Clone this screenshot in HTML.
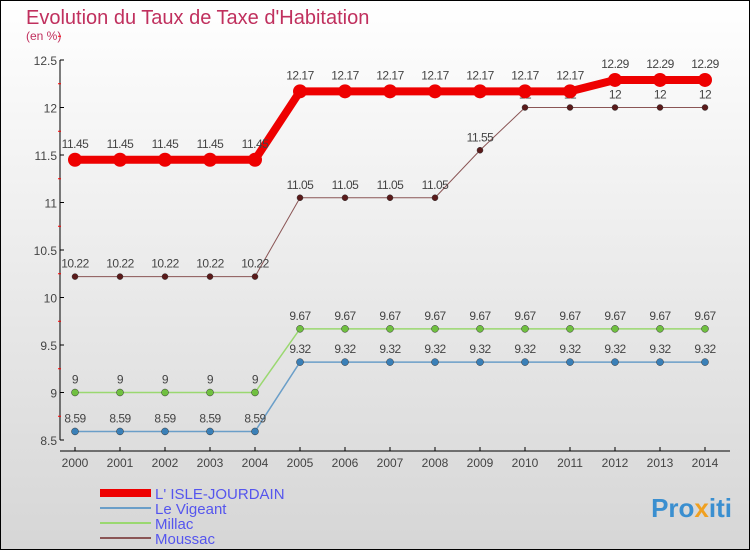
<!DOCTYPE html>
<html><head><meta charset="utf-8"><style>
body{margin:0}
#wrap{width:750px;height:550px;position:relative;box-sizing:border-box;border:1px solid #000;background:linear-gradient(#ffffff,#d6d6d6);font-family:"Liberation Sans",sans-serif;overflow:hidden}
</style></head><body>
<div id="wrap">
<svg id="svg" width="750" height="550" style="position:absolute;left:-1px;top:-1px">
<text x="26" y="24" font-size="20" fill="#c0305e">Evolution du Taux de Taxe d'Habitation</text>
<text x="26" y="40" font-size="12" fill="#c0305e">(en %)</text>
<g id="plot"></g>
<text x="732" y="517" font-size="26" font-weight="bold" fill="#3a8fd0" text-anchor="end">Pro<tspan fill="#f0a020">x</tspan>iti</text>
</svg>
</div>
<script>
const years=[2000,2001,2002,2003,2004,2005,2006,2007,2008,2009,2010,2011,2012,2013,2014];
const isle=[11.45,11.45,11.45,11.45,11.45,12.17,12.17,12.17,12.17,12.17,12.17,12.17,12.29,12.29,12.29];
const vigeant=[8.59,8.59,8.59,8.59,8.59,9.32,9.32,9.32,9.32,9.32,9.32,9.32,9.32,9.32,9.32];
const millac=[9,9,9,9,9,9.67,9.67,9.67,9.67,9.67,9.67,9.67,9.67,9.67,9.67];
const moussac=[10.22,10.22,10.22,10.22,10.22,11.05,11.05,11.05,11.05,11.55,12,12,12,12,12];
const yTicks=[8.5,9,9.5,10,10.5,11,11.5,12,12.5];
const names=["L' ISLE-JOURDAIN","Le Vigeant","Millac","Moussac"];
const NS="http://www.w3.org/2000/svg";
const g=document.getElementById('plot');
const X=i=>75+i*45;
const Y=v=>440-(v-8.5)*95;
function mk(t,a){const e=document.createElementNS(NS,t);for(const k in a)e.setAttribute(k,a[k]);g.appendChild(e);return e;}
let ax=mk('line',{x1:60,y1:60,x2:60,y2:440,stroke:'#000'});

let bx=mk('line',{x1:60,y1:451,x2:730,y2:451,stroke:'#000'});

yTicks.forEach(v=>{
 mk('line',{x1:60,y1:Y(v),x2:64,y2:Y(v),stroke:'#000'});
 mk('line',{x1:58,y1:Y(v)-23.75,x2:61,y2:Y(v)-23.75,stroke:'#f00'});
 const t=mk('text',{x:57,y:Y(v)+5,'font-size':12,fill:'#444','text-anchor':'end'});t.textContent=v;
 
});
years.forEach((y,i)=>{
 mk('line',{x1:X(i),y1:447,x2:X(i),y2:451,stroke:'#000'});
 const t=mk('text',{x:X(i),y:467,'font-size':12,fill:'#444','text-anchor':'middle'});t.textContent=y;
 
});
const series=[[vigeant,'#6a9ec8','#3a80b8',1.5,3.5],[millac,'#9ad870','#70c040',1.5,3.5],[moussac,'#8a5555','#5a1a1a',1,3],[isle,'#ee0000','#ee0000',8,7]];
const snames=['le-vigeant','millac','moussac','isle-jourdain'];
series.forEach((s,k)=>{
 const [d,lc,pc,w,r]=s;
 const p=mk('polyline',{points:d.map((v,i)=>X(i)+','+Y(v)).join(' '),fill:'none',stroke:lc,'stroke-width':w});
 
 d.forEach((v,i)=>{
  const c=mk('circle',{cx:X(i),cy:Y(v),r:r,fill:pc,stroke:k==3?'none':'#333','stroke-width':0.5});
  
  const t=mk('text',{x:X(i),y:Y(v)-(k==3?12:9),'font-size':12,fill:'#444','text-anchor':'middle','letter-spacing':'-0.5'});t.textContent=v;
  
 });
});
const lc=['#ee0000','#6a9ec8','#9ad870','#8a5555'],lw=[8,2,2,2];
names.forEach((n,k)=>{
 const yy=493+k*15;
 const l=mk('line',{x1:100,y1:yy,x2:151,y2:yy,stroke:lc[k],'stroke-width':lw[k]});
 
 const t=mk('text',{x:155,y:yy+6,'font-size':15,fill:'#5555ee'});t.textContent=n;
 
});
</script>
</body></html>
